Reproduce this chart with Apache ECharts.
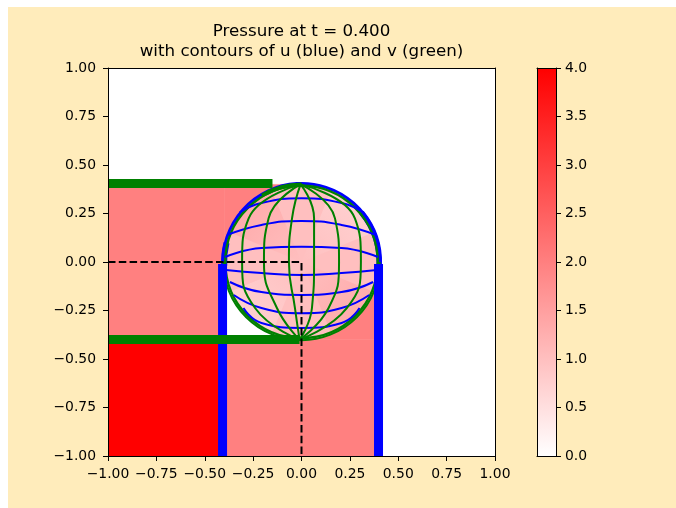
<!DOCTYPE html>
<html>
<head>
<meta charset="utf-8">
<script src="https://cdn.jsdelivr.net/npm/echarts@6/dist/echarts.min.js"></script>
<style>
  html, body { margin: 0; padding: 0; background: #fff; }
  #bg { position: absolute; left: 8px; top: 7px; width: 668px; height: 501px; background: #ffecbb; }
  #chart { position: absolute; left: 0; top: 0; width: 676px; height: 508px; }
</style>
</head>
<body>
<div id="bg"></div>
<div id="chart"></div>
<script>
// pressure field, piecewise blocks [p, x0, x1, y0, y1]
const blockP  = [4, 2, 2, 2, 2];
const blockX0 = [-1, -1, -0.4, -0.4, 0];
const blockX1 = [-0.4, -0.4, 0.4, 0, 0.4];
const blockY0 = [-1, -0.4, -1, 0, -0.4];
const blockY1 = [-0.4, 0.4, -0.4, 0.4, 0];

// the disc in the middle: centre, radius, pressure
const disc = [0, 0, 0.4];
const discP = 1.0;
// pressure near the rim, by direction (deg, clockwise from +x on screen)
const rimAngle = [0, 45, 90, 135, 180, 225, 270, 315];
const rimP     = [1.0, 1.3, 1.0, 0.75, 1.0, 1.3, 1.0, 0.75];

// bundled u contours (thick blue) and v contours (thick green)
const uBandX = [-0.408, 0.398];
const uBandTop = -0.01;
const vBandY = [0.405, -0.400];
const vBandEnd = [-0.15, -0.01];

// u contours inside the disc
const uContours = [
  [[-0.32, 0.255], [-0.207, 0.304], [0, 0.328], [0.207, 0.304], [0.32, 0.255]],
  [[-0.385, 0.139], [-0.207, 0.191], [0, 0.211], [0.207, 0.191], [0.385, 0.139]],
  [[-0.395, 0.026], [-0.207, 0.072], [0, 0.079], [0.207, 0.072], [0.395, 0.026]],
  [[-0.39, -0.041], [-0.207, -0.057], [0, -0.067], [0.207, -0.057], [0.39, -0.041]],
  [[-0.37, -0.103], [-0.207, -0.155], [0, -0.17], [0.207, -0.155], [0.37, -0.103]],
  [[-0.35, -0.17], [-0.207, -0.237], [0, -0.264], [0.207, -0.237], [0.35, -0.17]],
  [[-0.30, -0.237], [-0.207, -0.314], [0, -0.34], [0.207, -0.314], [0.30, -0.237]]
];
// v contours inside the disc
const vContours = [
  [[-0.005, 0.4], [-0.273, 0.225], [-0.307, 0.0], [-0.240, -0.237], [-0.01, -0.4]],
  [[-0.005, 0.4], [-0.170, 0.225], [-0.194, 0.0], [-0.127, -0.237], [-0.01, -0.4]],
  [[-0.005, 0.4], [-0.049, 0.225], [-0.065, 0.0], [-0.034, -0.237], [-0.01, -0.4]],
  [[-0.005, 0.4], [0.065, 0.225], [0.065, 0.0], [0.054, -0.237], [-0.01, -0.4]],
  [[-0.005, 0.4], [0.173, 0.225], [0.194, 0.0], [0.140, -0.237], [-0.01, -0.4]],
  [[-0.005, 0.4], [0.276, 0.225], [0.307, 0.0], [0.235, -0.237], [-0.01, -0.4]]
];

const dashPath = [[-1, 0], [0, 0], [0, -1]];

const pMin = 0, pMax = 4;
const cbColors = ['#ffffff', '#ff0000'];

const FONT = 'DejaVu Sans';
const BLUE = '#0000ff';
const GREEN = '#008000';

const chart = echarts.init(document.getElementById('chart'));

function fmt(d) {
  return v => (v < 0 ? '\u2212' : '') + Math.abs(v).toFixed(d);
}

function renderBlock(params, api) {
  const a = api.coord([api.value(1), api.value(4)]);
  const b = api.coord([api.value(2), api.value(3)]);
  const c = api.visual('color');
  return {
    type: 'rect',
    shape: { x: a[0], y: a[1], width: b[0] - a[0], height: b[1] - a[1] },
    style: { fill: c, stroke: c, lineWidth: 0.5 }
  };
}

function renderDisc(params, api) {
  const c = api.coord([api.value(1), api.value(2)]);
  const r = api.size([api.value(3), 0])[0];
  return { type: 'circle', shape: { cx: c[0], cy: c[1], r: r }, style: { fill: api.visual('color') } };
}

function renderRim(params, api) {
  const c = api.coord([api.value(1), api.value(2)]);
  const r = api.size([api.value(3), 0])[0];
  const mid = api.value(4) * Math.PI / 180;
  const col = api.visual('color');
  return {
    type: 'sector',
    shape: { cx: c[0], cy: c[1], r0: 0, r: r, startAngle: mid - Math.PI / 8, endAngle: mid + Math.PI / 8 },
    style: {
      fill: new echarts.graphic.RadialGradient(c[0], c[1], r, [
        { offset: 0, color: echarts.color.modifyAlpha(col, 0) },
        { offset: 1, color: col }
      ], true)
    }
  };
}

function edgeRenderer(radiusScale, start, end, color, width) {
  return function (params, api) {
    const c = api.coord([api.value(0), api.value(1)]);
    const r = api.size([api.value(2), 0])[0] * radiusScale;
    return {
      type: 'arc',
      shape: { cx: c[0], cy: c[1], r: r, startAngle: start, endAngle: end },
      style: { stroke: color, lineWidth: width, fill: null }
    };
  };
}

function renderColorbar(params, api) {
  const a = api.coord([0, api.value(1)]);
  const b = api.coord([1, api.value(0)]);
  return {
    type: 'rect',
    shape: { x: a[0], y: a[1], width: b[0] - a[0], height: b[1] - a[1] },
    style: {
      fill: new echarts.graphic.LinearGradient(0, 1, 0, 0, [
        { offset: 0, color: cbColors[0] },
        { offset: 1, color: cbColors[1] }
      ])
    }
  };
}

const blocks = blockP.map((p, i) => [p, blockX0[i], blockX1[i], blockY0[i], blockY1[i]]);
const rims = rimAngle.map((a, i) => [rimP[i], disc[0], disc[1], disc[2], a]);

function line(data, color, width, extra) {
  return Object.assign({
    type: 'line', data: data, showSymbol: false, silent: true, animation: false,
    xAxisIndex: 0, yAxisIndex: 0,
    lineStyle: { color: color, width: width }
  }, extra || {});
}

function edge(scale, a0, a1, color, width) {
  return { type: 'custom', renderItem: edgeRenderer(scale, a0, a1, color, width), data: [disc], encode: { x: 0, y: 1 }, silent: true };
}

const PI = Math.PI;
const series = [
  { type: 'custom', renderItem: renderBlock, data: blocks, encode: { x: [1, 2], y: [3, 4] }, clip: true, silent: true },
  { type: 'custom', renderItem: renderDisc, data: [[discP].concat(disc)], encode: { x: 1, y: 2 }, clip: true, silent: true },
  { type: 'custom', renderItem: renderRim, data: rims, encode: { x: 1, y: 2 }, clip: true, silent: true }
];

uBandX.forEach(x => series.push(line([[x, -1], [x, uBandTop]], BLUE, 9)));
series.push(edge(1.015, PI - 0.06, 2 * PI + 0.06, BLUE, 3));
series.push(edge(1.005, PI * 1.78, 2 * PI + 0.04, BLUE, 5.5));
series.push(edge(1.0, PI - 0.05, PI * 1.08, BLUE, 6));
uContours.forEach(c => series.push(line(c, BLUE, 2, { smooth: true })));

vBandY.forEach((y, i) => series.push(line([[-1, y], [vBandEnd[i], y]], GREEN, 9)));
series.push(edge(0.985, 0, 2 * PI, GREEN, 2.5));
series.push(edge(1.01, 0, PI, GREEN, 2));
series.push(edge(1.0, PI * 1.33, PI * 1.5, GREEN, 4));
vContours.forEach(c => series.push(line(c, GREEN, 2, { smooth: true })));

series.push(line(dashPath, '#000', 2, { lineStyle: { color: '#000', width: 2, type: [7.5, 3.3] } }));

series.push({
  type: 'custom', renderItem: renderColorbar, data: [[pMin, pMax]],
  xAxisIndex: 2, yAxisIndex: 2, encode: { y: [0, 1] }, silent: true
});

const labelStyle = { fontFamily: FONT, fontSize: 13.9, color: '#000' };
const lineStyle = { color: '#000', width: 1 };
const tick = { show: true, length: 5, lineStyle: lineStyle };

function frameAxis(gridIndex, position, min, max) {
  return {
    type: 'value', gridIndex: gridIndex, position: position, min: min, max: max, z: 10,
    axisLine: { show: true, onZero: false, lineStyle: lineStyle },
    axisTick: { show: false }, axisLabel: { show: false }, splitLine: { show: false }
  };
}

chart.setOption({
  animation: false,
  textStyle: { fontFamily: FONT },
  title: [
    { text: 'Pressure at t = 0.400', left: 301.5, top: 23, padding: 0, textAlign: 'center',
      textStyle: { fontFamily: FONT, fontSize: 16.7, fontWeight: 'normal', color: '#000' } },
    { text: 'with contours of u (blue) and v (green)', left: 301.5, top: 43, padding: 0, textAlign: 'center',
      textStyle: { fontFamily: FONT, fontSize: 16.7, fontWeight: 'normal', color: '#000' } }
  ],
  grid: [
    { left: 108, top: 68, width: 387, height: 388, show: true, backgroundColor: '#ffffff', borderWidth: 0 },
    { left: 537, top: 68, width: 19, height: 388 }
  ],
  visualMap: {
    show: false, type: 'continuous', min: pMin, max: pMax, dimension: 0,
    seriesIndex: [0, 1, 2], inRange: { color: cbColors }
  },
  xAxis: [
    {
      type: 'value', gridIndex: 0, position: 'bottom', min: -1, max: 1, interval: 0.25, z: 10,
      axisLine: { show: true, onZero: false, lineStyle: lineStyle },
      axisTick: tick, splitLine: { show: false },
      axisLabel: Object.assign({ margin: 11, formatter: fmt(2) }, labelStyle)
    },
    frameAxis(0, 'top', -1, 1),
    frameAxis(1, 'bottom', 0, 1),
    frameAxis(1, 'top', 0, 1)
  ],
  yAxis: [
    {
      type: 'value', gridIndex: 0, position: 'left', min: -1, max: 1, interval: 0.25, z: 10,
      axisLine: { show: true, onZero: false, lineStyle: lineStyle },
      axisTick: tick, splitLine: { show: false },
      axisLabel: Object.assign({ margin: 12, formatter: fmt(2) }, labelStyle)
    },
    frameAxis(0, 'right', -1, 1),
    {
      type: 'value', gridIndex: 1, position: 'right', min: pMin, max: pMax, interval: 0.5, z: 10,
      axisLine: { show: true, onZero: false, lineStyle: lineStyle },
      axisTick: tick, splitLine: { show: false },
      axisLabel: Object.assign({ margin: 9, formatter: fmt(1) }, labelStyle)
    },
    frameAxis(1, 'left', pMin, pMax)
  ],
  series: series
});
</script>
</body>
</html>
